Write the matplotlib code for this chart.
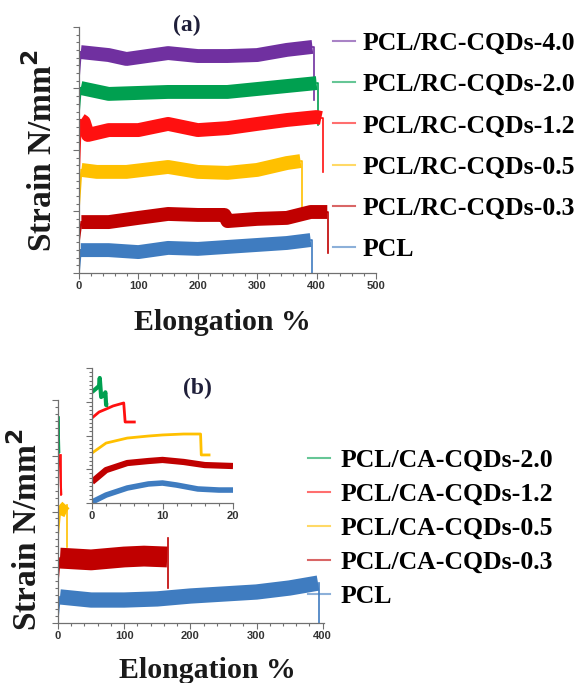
import matplotlib
matplotlib.use("Agg")
import matplotlib.pyplot as plt
from matplotlib.lines import Line2D
from matplotlib.ticker import MultipleLocator, AutoMinorLocator

# ---- panel (a): PCL / RC-CQDs, strain in arbitrary units (0-100) ----
labels_a = ['PCL/RC-CQDs-4.0', 'PCL/RC-CQDs-2.0', 'PCL/RC-CQDs-1.2',
            'PCL/RC-CQDs-0.5', 'PCL/RC-CQDs-0.3', 'PCL']
colors_a = ['#7030a0', '#00a050', '#ff1010', '#ffc000', '#c00000', '#3f7cc0']

start_a = [80.5, 66.3, 41.9, 27.6, 13.4, 1.2]
x_a = [
    [3, 50, 80, 150, 200, 250, 300, 350, 393],
    [3, 50, 100, 150, 200, 250, 300, 350, 400],
    [3, 8, 15, 50, 100, 150, 200, 250, 300, 350, 400, 408],
    [4, 30, 80, 150, 200, 250, 300, 350, 373],
    [4, 50, 100, 150, 200, 245, 250, 300, 350, 390, 418],
    [3, 50, 100, 150, 200, 250, 300, 350, 390],
]
y_a = [
    [89.8, 88.6, 87.0, 89.4, 88.2, 88.2, 88.6, 90.7, 91.9],
    [75.2, 72.8, 73.2, 73.6, 73.6, 73.6, 74.8, 76.0, 77.2],
    [62.2, 61.4, 56.1, 58.1, 58.1, 60.6, 58.1, 58.9, 60.6, 62.2, 63.4, 63.0],
    [41.9, 41.1, 41.1, 43.1, 41.1, 40.7, 41.9, 44.7, 45.5],
    [20.7, 20.7, 22.4, 24.0, 23.6, 23.6, 21.1, 22.0, 22.4, 24.8, 24.8],
    [9.3, 9.3, 8.5, 10.2, 9.8, 10.6, 11.4, 12.2, 13.4],
]
break_x_a = [395, 402, 410, 375, 420, 393]
break_y_a = [70.3, 60.2, 41.1, 25.6, 8.1, 0.0]

# ---- panel (b): PCL / CA-CQDs ----
labels_b = ['PCL/CA-CQDs-2.0', 'PCL/CA-CQDs-1.2', 'PCL/CA-CQDs-0.5',
            'PCL/CA-CQDs-0.3', 'PCL']
colors_b = ['#00a050', '#ff1010', '#ffc000', '#c00000', '#3f7cc0']

start_b = [92.4, 75.3, 38.6, 19.3, 2.7]
x_b = [
    [0.3, 1, 1.5, 2],
    [2.5, 3, 4, 5],
    [3, 8, 12],
    [3, 50, 100, 130, 165],
    [3, 50, 100, 150, 200, 250, 300, 350, 393],
]
y_b = [
    [92.4, 88.8, 82.1, 76.2],
    [75.3, 72.0, 63.7, 57.4],
    [48.4, 51.6, 52.9],
    [29.1, 28.3, 29.6, 30.0, 29.6],
    [11.7, 10.3, 10.3, 10.8, 12.1, 13.0, 13.9, 15.7, 17.9],
]
spike_b = [92.4, 75.3, 52.9, 38.1, 17.9]
break_x_b = [2, 5, 14, 166, 395]
break_y_b = [76.2, 57.4, 34.1, 15.7, 0.0]
width_b = [1.5, 1.5, 7, 15, 11]

# inset (first 20 % elongation)
x_in = [
    [0, 0.5, 1.0, 1.1, 1.3, 1.8, 1.9, 2.0, 2.3],
    [0, 1, 2, 3, 4.5, 4.7, 6.2],
    [0, 2, 5, 8, 10, 13, 15.4, 15.5, 16.8],
    [0, 2, 5, 8, 10, 13, 16, 20],
    [0, 2, 5, 8, 10, 12, 15, 18, 20],
]
y_in = [
    [82.2, 84.4, 86.7, 92.6, 78.5, 80.7, 82.0, 72.6, 72.6],
    [63.0, 67.4, 69.6, 71.9, 74.1, 60.0, 60.0],
    [37.0, 44.4, 48.1, 49.6, 50.4, 51.1, 51.1, 35.6, 35.6],
    [15.6, 24.4, 29.6, 31.1, 31.9, 30.4, 28.1, 27.4],
    [0.7, 5.9, 11.1, 14.1, 14.8, 13.3, 10.4, 9.6, 9.6],
]
width_in = [3, 2, 2, 4.5, 4]

serif = 'Liberation Serif'
tick_font = {'family': 'Liberation Sans', 'weight': 'bold', 'size': 8}
W, H = 584, 683
fig = plt.figure(figsize=(W / 100, H / 100), dpi=100)


def style_axes(ax, xmajor, xminor):
    for s in ['top', 'right']:
        ax.spines[s].set_visible(False)
    for s in ['left', 'bottom']:
        ax.spines[s].set_color('#707070')
        ax.spines[s].set_linewidth(0.9)
    ax.xaxis.set_major_locator(MultipleLocator(xmajor))
    ax.xaxis.set_minor_locator(MultipleLocator(xminor))
    ax.yaxis.set_major_locator(MultipleLocator(25))
    ax.yaxis.set_minor_locator(AutoMinorLocator(8))
    ax.tick_params(which='both', color='#707070', width=0.8, direction='out')
    ax.tick_params(which='major', length=4)
    ax.tick_params(which='minor', length=2.5)
    ax.tick_params(axis='x', pad=2, labelcolor='#333333')
    ax.set_yticklabels([])
    for t in ax.get_xticklabels():
        t.set_fontproperties(tick_font)


def px_box(l, r, b, t):
    return [l / W, 1 - b / H, (r - l) / W, (b - t) / H]


legend_font = {'family': serif, 'weight': 'bold', 'size': 18.5}

# ---------------- panel (a) ----------------
ax1 = fig.add_axes(px_box(79, 376, 273, 27))
for i in range(len(labels_a)):
    c = colors_a[i]
    ax1.plot([0, x_a[i][0]], [start_a[i], y_a[i][0]], color=c, lw=1.5)
    ax1.plot(x_a[i], y_a[i], color=c, lw=10, solid_joinstyle='round',
             solid_capstyle='butt')
    ax1.plot([x_a[i][-1], break_x_a[i], break_x_a[i]],
             [y_a[i][-1], y_a[i][-1], break_y_a[i]], color=c, lw=1.2)
ax1.set_xlim(0, 500)
ax1.set_ylim(0, 100)
style_axes(ax1, 100, 20)

handles_a = [Line2D([], [], color=c, lw=1.5, alpha=0.6) for c in colors_a]
ax1.legend(handles_a, labels_a, loc='upper left', bbox_to_anchor=(333 / W, 1 - 32 / H),
           bbox_transform=fig.transFigure, frameon=False, borderpad=0, borderaxespad=0,
           handlelength=0.86, handletextpad=0.3, labelspacing=0.71, prop=legend_font)

fig.text(187 / W, 1 - 25 / H, '(a)', ha='center', va='center', family=serif,
         weight='bold', size=17, color='#1f1f3a')
fig.text(42 / W, 1 - 151 / H, 'Strain N/mm$^\\mathbf{2}$', rotation=90, ha='center',
         va='center', family=serif, weight='bold', size=24, color='#1a1a1a')
fig.text(222 / W, 1 - 322 / H, 'Elongation %', ha='center', va='center', family=serif,
         weight='bold', size=21.5, color='#1a1a1a')

# ---------------- panel (b) ----------------
ax2 = fig.add_axes(px_box(58, 324, 623, 400))
for i in range(len(labels_b)):
    c = colors_b[i]
    ax2.plot([0, x_b[i][0]], [start_b[i], y_b[i][0]], color=c, lw=1.2)
    ax2.plot(x_b[i], y_b[i], color=c, lw=width_b[i], solid_joinstyle='round',
             solid_capstyle='butt')
    ax2.plot([break_x_b[i], break_x_b[i]], [spike_b[i], break_y_b[i]], color=c, lw=1.2)
ax2.set_xlim(0, 402)
ax2.set_ylim(0, 100)
style_axes(ax2, 100, 20)

handles_b = [Line2D([], [], color=c, lw=1.5, alpha=0.6) for c in colors_b]
ax2.legend(handles_b, labels_b, loc='upper left', bbox_to_anchor=(308 / W, 1 - 449 / H),
           bbox_transform=fig.transFigure, frameon=False, borderpad=0, borderaxespad=0,
           handlelength=0.86, handletextpad=0.4, labelspacing=0.43, prop=legend_font)

ax3 = fig.add_axes(px_box(92, 233, 503, 368))
for i in range(len(x_in)):
    ax3.plot(x_in[i], y_in[i], color=colors_b[i], lw=width_in[i],
             solid_joinstyle='round', solid_capstyle='butt')
ax3.set_xlim(0, 20)
ax3.set_ylim(0, 100)
ax3.patch.set_alpha(0)
style_axes(ax3, 10, 2)

fig.text(197 / W, 1 - 388 / H, '(b)', ha='center', va='center', family=serif,
         weight='bold', size=17, color='#1f1f3a')
fig.text(27 / W, 1 - 530 / H, 'Strain N/mm$^\\mathbf{2}$', rotation=90, ha='center',
         va='center', family=serif, weight='bold', size=24, color='#1a1a1a')
fig.text(207 / W, 1 - 670 / H, 'Elongation %', ha='center', va='center', family=serif,
         weight='bold', size=21.5, color='#1a1a1a')

fig.savefig('out.png', dpi=100)
